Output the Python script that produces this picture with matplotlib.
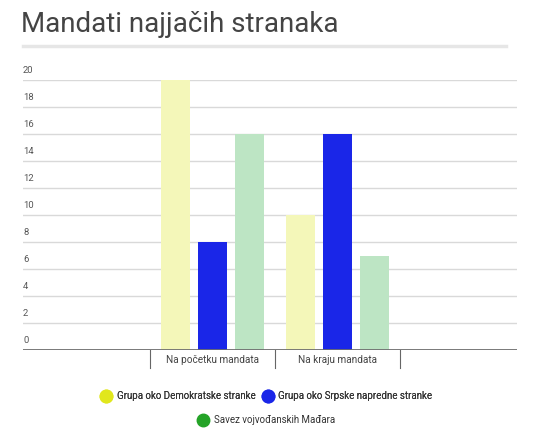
import numpy as np
import matplotlib.pyplot as plt
from matplotlib.lines import Line2D
from matplotlib.transforms import blended_transform_factory

# data
categories = ['Na početku mandata', 'Na kraju mandata']
series = ['Grupa oko Demokratske stranke', 'Grupa oko Srpske napredne stranke', 'Savez vojvođanskih Mađara']
demokratska = [20, 10]
napredna = [8, 16]
svm = [16, 7]
yticks = [0, 2, 4, 6, 8, 10, 12, 14, 16, 18, 20]

bar_colors = ['#f4f7b9', '#1a26e8', '#bde5c4']
legend_colors = ['#e1e71d', '#1a26e8', '#24a327']

plt.rcParams['font.family'] = ['Roboto', 'DejaVu Sans']

fig = plt.figure(figsize=(5.33, 4.33), dpi=100)
ax = fig.add_axes([23/533, 1-350/433, (517-23)/533, 270/433])

x = np.arange(len(categories))
w = 0.235
step = 0.296
for i, vals in enumerate([demokratska, napredna, svm]):
    ax.bar(x + (i-1)*step, vals, width=w, color=bar_colors[i], zorder=2)

ax.set_xlim(-1.516, 2.436)
ax.set_ylim(0, 20)

# gridlines + labels above the lines
for t in yticks:
    ax.axhline(t, color='#d9d9d9', lw=1, zorder=1)
tr = blended_transform_factory(ax.transAxes, ax.transData)
for t in yticks:
    ax.text(0.0, t + 0.35, str(t), transform=tr, fontsize=6.8, color='#555555',
            ha='left', va='bottom')
ax.axhline(0, color='#6e6e6e', lw=2, zorder=3)

for s in ax.spines.values():
    s.set_visible(False)
ax.set_xticks([])
ax.set_yticks([])

# category separators and labels
for b in [-0.5, 0.5, 1.5]:
    ax.plot([b, b], [0, -1.35], color='#666666', lw=0.8, clip_on=False)
for i, c in enumerate(categories):
    ax.text(x[i], -0.35, c, ha='center', va='top', fontsize=7.2, color='#444444')

# title
fig.text(21/533, 1-24/433, 'Mandati najjačih stranaka', fontsize=20, color='#444444',
         ha='left', va='center')
fig.add_artist(Line2D([23/533, 506/533], [1-46/433, 1-46/433], color='#e6e6e6', lw=2.5))

# legend
handles = [Line2D([], [], marker='o', ls='', markersize=9, color=c) for c in legend_colors]
leg1 = fig.legend(handles[:2], series[:2], loc='center', bbox_to_anchor=(0.5, 1-396/433),
                  ncol=2, frameon=False, fontsize=7, handletextpad=0.5, columnspacing=0.6,
                  handlelength=1.2, labelcolor='#333333')
leg2 = fig.legend(handles[2:], series[2:], loc='center', bbox_to_anchor=(0.5, 1-420/433),
                  frameon=False, fontsize=7, handletextpad=0.5, handlelength=1.2,
                  labelcolor='#333333')
fig.add_artist(leg1)

fig.savefig('out.png', dpi=100)
